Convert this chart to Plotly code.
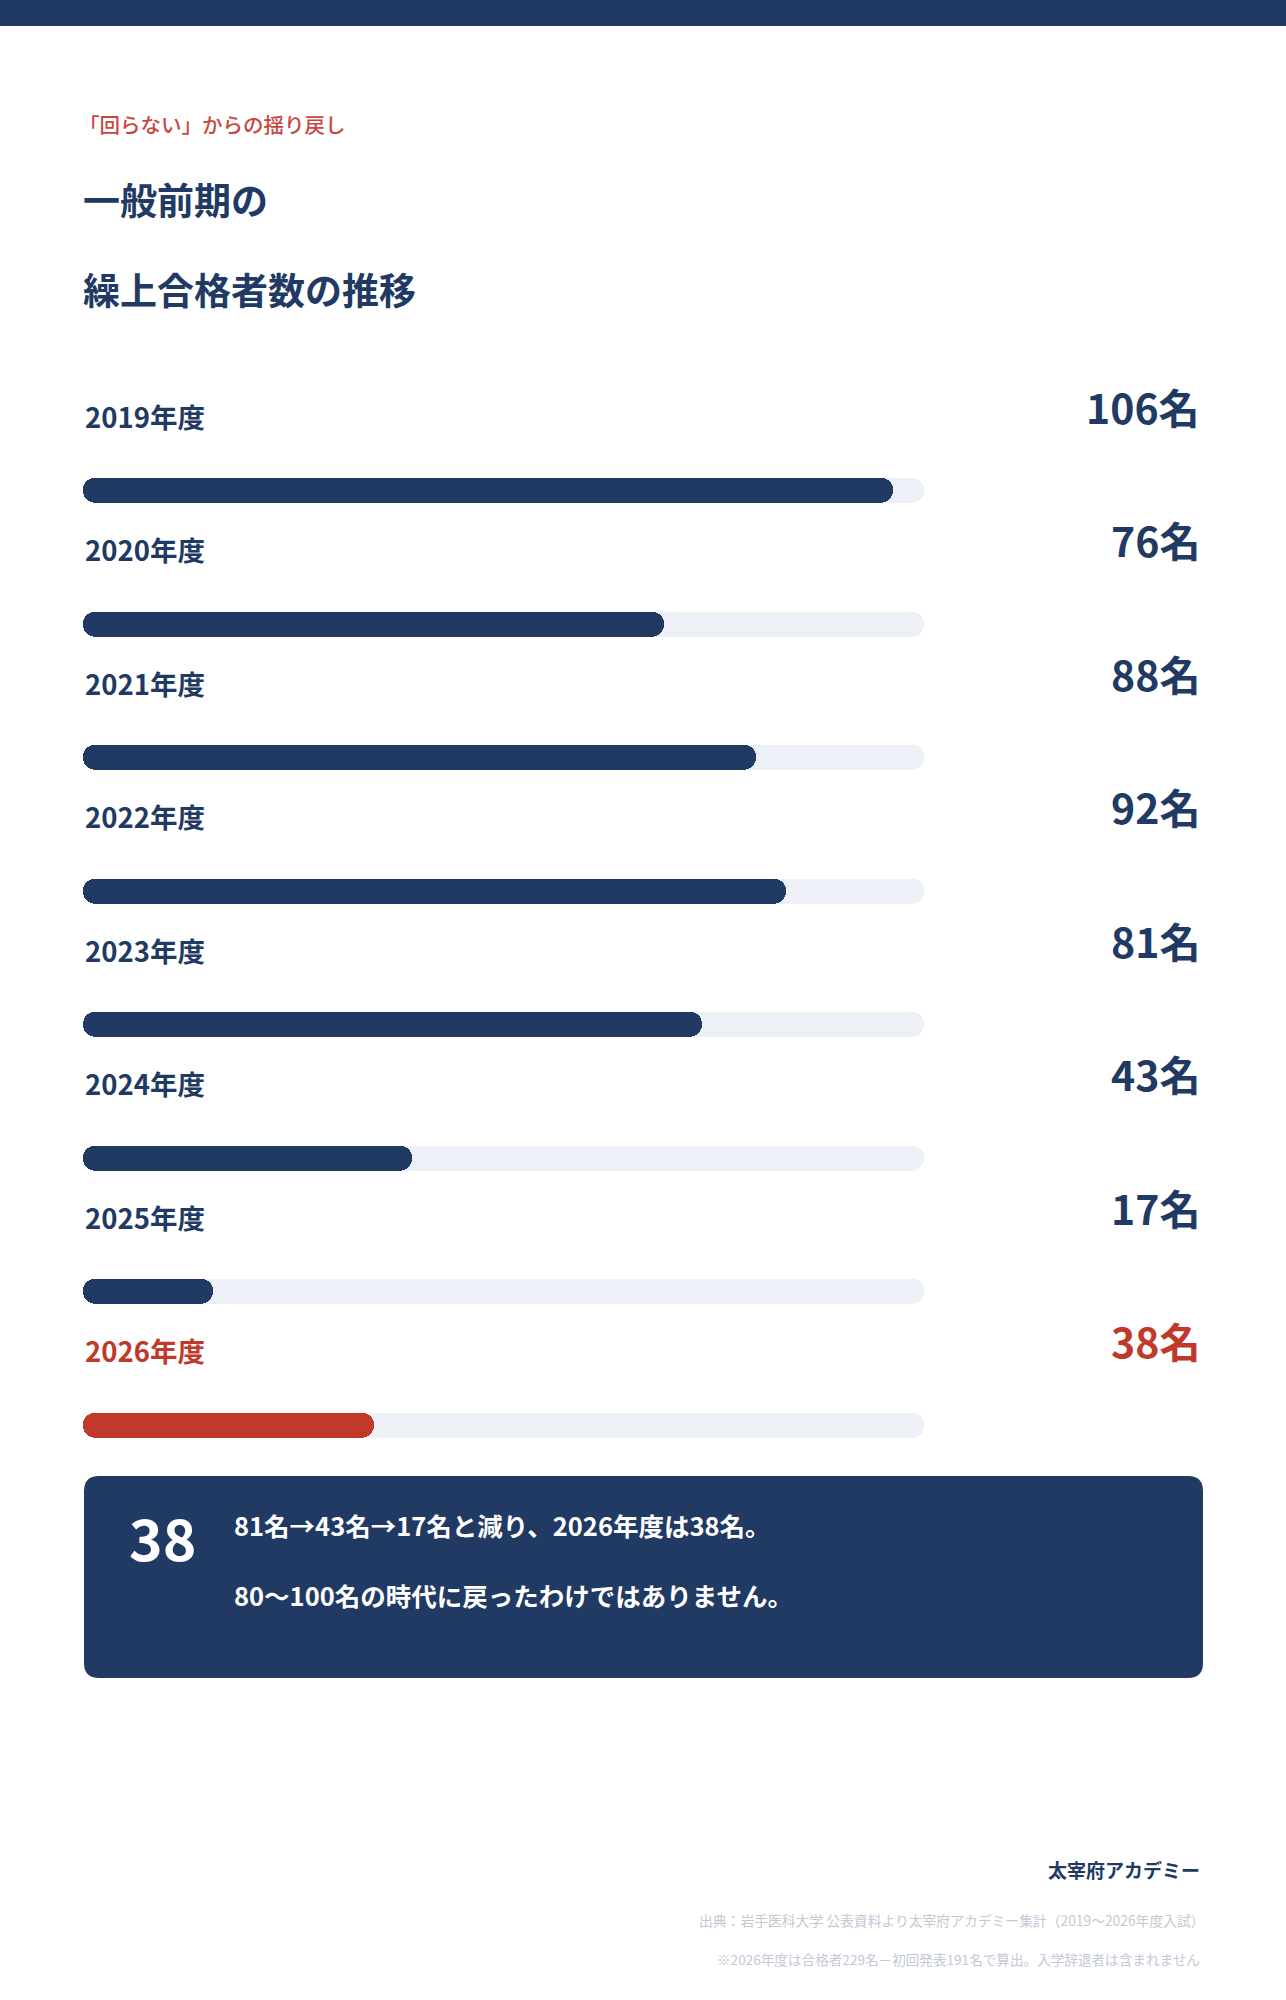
import plotly.graph_objects as go

# ---- data ----
years = ["2019年度", "2020年度", "2021年度", "2022年度", "2023年度", "2024年度", "2025年度", "2026年度"]
values = [106, 76, 88, 92, 81, 43, 17, 38]
value_labels = ["106名", "76名", "88名", "92名", "81名", "43名", "17名", "38名"]
scale_max = 110

kicker = "「回らない」からの揺り戻し"
title_lines = ["一般前期の", "繰上合格者数の推移"]
callout_number = "38"
callout_lines = ["81名→43名→17名と減り、2026年度は38名。", "80〜100名の時代に戻ったわけではありません。"]
brand = "太宰府アカデミー"
source_lines = ["出典：岩手医科大学 公表資料より太宰府アカデミー集計（2019〜2026年度入試）",
                "※2026年度は合格者229名－初回発表191名で算出。入学辞退者は含まれません"]

# ---- style ----
W, H = 1286, 2000
NAVY = "#213A64"
RED = "#C0392B"
KICKER_RED = "#C8473F"
TRACK = "#EDF0F7"
GRAY = "#C3C8D4"
FONT = "Noto Sans CJK JP"

def px(x):
    return x / W

def py(y):
    return 1 - y / H

rows = list(range(len(years)))
highlight = len(years) - 1
colors = [RED if i == highlight else NAVY for i in rows]
track = [scale_max] * len(years)

fig = go.Figure()
bar_w = 0.187
common = dict(orientation="h", width=bar_w, hoverinfo="skip", showlegend=False)
# track (rounded both ends via two overlapping bars)
fig.add_trace(go.Bar(y=rows, x=track, base=[0] * len(rows), marker=dict(color=TRACK, cornerradius="50%", line=dict(width=0)), **common))
fig.add_trace(go.Bar(y=rows, x=[-t for t in track], base=track, marker=dict(color=TRACK, cornerradius="50%", line=dict(width=0)), **common))
# fill
fig.add_trace(go.Bar(y=rows, x=values, base=[0] * len(rows), marker=dict(color=colors, cornerradius="50%", line=dict(width=0)), **common))
fig.add_trace(go.Bar(y=rows, x=[-v for v in values], base=values, marker=dict(color=colors, cornerradius="50%", line=dict(width=0)), **common))

annotations = []
for i, (lab, vl) in enumerate(zip(years, value_labels)):
    c = colors[i]
    annotations.append(dict(xref="x", yref="y", x=0, y=i, yshift=75, xanchor="left", yanchor="middle",
                            text=lab, showarrow=False, font=dict(family=FONT, size=27.5, color=c, weight="bold")))
    annotations.append(dict(xref="paper", yref="y", x=px(1202), y=i, yshift=85, xanchor="right", yanchor="middle",
                            text=vl, showarrow=False, font=dict(family=FONT, size=41, color=c, weight="bold")))

annotations.append(dict(xref="paper", yref="paper", x=px(77), y=py(124), xanchor="left", yanchor="middle",
                        text=kicker, showarrow=False, font=dict(family=FONT, size=20.5, color=KICKER_RED, weight=500)))
annotations.append(dict(xref="paper", yref="paper", x=px(81), y=py(199), xanchor="left", yanchor="middle",
                        text=title_lines[0], showarrow=False, font=dict(family=FONT, size=37, color=NAVY, weight="bold")))
annotations.append(dict(xref="paper", yref="paper", x=px(81), y=py(289), xanchor="left", yanchor="middle",
                        text=title_lines[1], showarrow=False, font=dict(family=FONT, size=37, color=NAVY, weight="bold")))

annotations.append(dict(xref="paper", yref="paper", x=px(127), y=py(1536), xanchor="left", yanchor="middle",
                        text=callout_number, showarrow=False, font=dict(family=FONT, size=57, color="white", weight="bold")))
annotations.append(dict(xref="paper", yref="paper", x=px(232), y=py(1524), xanchor="left", yanchor="middle",
                        text=callout_lines[0], showarrow=False, font=dict(family=FONT, size=25.5, color="white", weight="bold")))
annotations.append(dict(xref="paper", yref="paper", x=px(232), y=py(1594), xanchor="left", yanchor="middle",
                        text=callout_lines[1], showarrow=False, font=dict(family=FONT, size=25.5, color="white", weight="bold")))

annotations.append(dict(xref="paper", yref="paper", x=px(1202), y=py(1869), xanchor="right", yanchor="middle",
                        text=brand, showarrow=False, font=dict(family=FONT, size=19, color=NAVY, weight="bold")))
annotations.append(dict(xref="paper", yref="paper", x=px(1207), y=py(1920), xanchor="right", yanchor="middle",
                        text=source_lines[0], showarrow=False, font=dict(family=FONT, size=13.8, color=GRAY)))
annotations.append(dict(xref="paper", yref="paper", x=px(1202), y=py(1959), xanchor="right", yanchor="middle",
                        text=source_lines[1], showarrow=False, font=dict(family=FONT, size=13.6, color=GRAY)))

# decorative shapes
L, R, T, B, r = 84, 1203, 1476, 1678, 15
path = (f"M {px(L + r)},{py(T)} L {px(R - r)},{py(T)} Q {px(R)},{py(T)} {px(R)},{py(T + r)} "
        f"L {px(R)},{py(B - r)} Q {px(R)},{py(B)} {px(R - r)},{py(B)} "
        f"L {px(L + r)},{py(B)} Q {px(L)},{py(B)} {px(L)},{py(B - r)} "
        f"L {px(L)},{py(T + r)} Q {px(L)},{py(T)} {px(L + r)},{py(T)} Z")
shapes = [
    dict(type="rect", xref="paper", yref="paper", x0=0, x1=1, y0=py(26), y1=1, fillcolor=NAVY, line=dict(width=0), layer="below"),
    dict(type="path", xref="paper", yref="paper", path=path, fillcolor=NAVY, line=dict(width=0), layer="below"),
]

fig.update_layout(
    width=W, height=H, margin=dict(l=0, r=0, t=0, b=0),
    paper_bgcolor="white", plot_bgcolor="white",
    barmode="overlay", bargap=0,
    xaxis=dict(domain=[px(83), px(924)], range=[0, scale_max], visible=False, fixedrange=True),
    yaxis=dict(domain=[py(1491.75), py(423.75)], range=[7.5, -0.5], visible=False, fixedrange=True),
    annotations=annotations, shapes=shapes,
    font=dict(family=FONT),
)

fig.write_html("out.html", config={"displayModeBar": False},
               post_script="document.body.style.margin='0';document.body.style.padding='0';")
